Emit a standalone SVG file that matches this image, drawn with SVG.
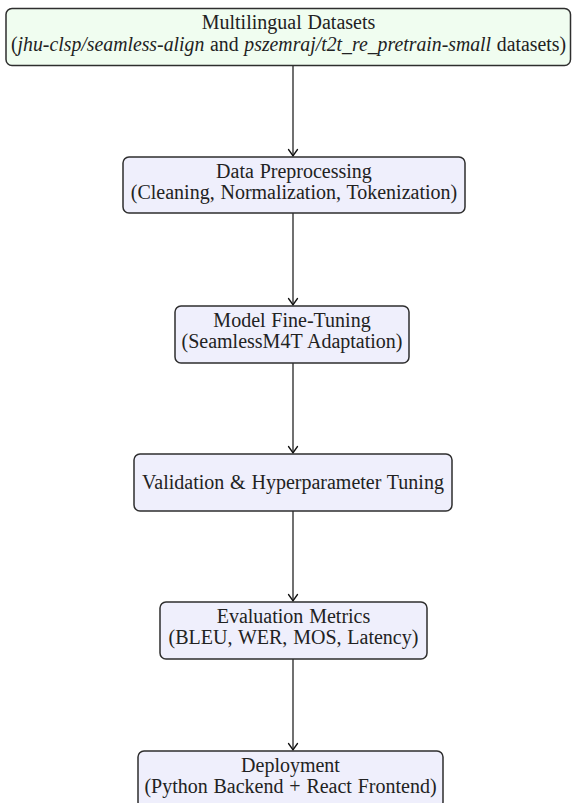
<svg xmlns="http://www.w3.org/2000/svg" width="576" height="803" viewBox="0 0 576 803">
<defs>
<style>
.box{stroke:#2e2e2e;stroke-width:1.5;}
.g{fill:#f0fdf0;}
.b{fill:#efeffc;}
.t{font-family:"Liberation Serif","Times New Roman",serif;font-size:20px;word-spacing:0.8px;fill:#222;text-anchor:middle;}
.it{font-style:italic;}
.arr{stroke:#111;stroke-width:1.2;fill:none;}
</style>
<marker id="ah" markerUnits="userSpaceOnUse" markerWidth="14" markerHeight="14" refX="0" refY="0" viewBox="-8 -7 10 14" orient="auto" overflow="visible">
<path d="M -6.5 -4.5 Q -2 -1.2 0 0 Q -2 1.2 -6.5 4.5" stroke="#111" stroke-width="1.3" fill="none" stroke-linecap="round"/>
</marker>
</defs>
<rect width="576" height="803" fill="#fff"/>
<g id="connectors">
<line class="arr" x1="293" y1="65.5" x2="293" y2="156" marker-end="url(#ah)"/>
<line class="arr" x1="293" y1="213" x2="293" y2="305" marker-end="url(#ah)"/>
<line class="arr" x1="293" y1="363" x2="293" y2="453" marker-end="url(#ah)"/>
<line class="arr" x1="293" y1="511" x2="293" y2="601" marker-end="url(#ah)"/>
<line class="arr" x1="293" y1="659" x2="293" y2="750" marker-end="url(#ah)"/>
</g>
<g id="datasets">
<rect class="box g" x="6" y="8.5" width="564.5" height="57" rx="6"/>
<text class="t" x="288.5" y="29">Multilingual Datasets</text>
<text class="t" x="288.5" y="51" textLength="555" lengthAdjust="spacingAndGlyphs">(<tspan class="it">jhu-clsp/seamless-align</tspan> and <tspan class="it">pszemraj/t2t_re_pretrain-small</tspan> datasets)</text>
</g>
<g id="preprocessing">
<rect class="box b" x="123" y="157" width="342" height="56" rx="6"/>
<text class="t" x="294" y="178">Data Preprocessing</text>
<text class="t" x="294" y="199">(Cleaning, Normalization, Tokenization)</text>
</g>
<g id="finetuning">
<rect class="box b" x="175" y="306" width="234" height="57" rx="6"/>
<text class="t" x="292" y="327">Model Fine-Tuning</text>
<text class="t" x="292" y="348">(SeamlessM4T Adaptation)</text>
</g>
<g id="validation">
<rect class="box b" x="134" y="454" width="318" height="57" rx="6"/>
<text class="t" x="293" y="489">Validation &amp; Hyperparameter Tuning</text>
</g>
<g id="evaluation">
<rect class="box b" x="160" y="602" width="267" height="57" rx="6"/>
<text class="t" x="293.5" y="623">Evaluation Metrics</text>
<text class="t" x="293.5" y="644">(BLEU, WER, MOS, Latency)</text>
</g>
<g id="deployment">
<rect class="box b" x="138" y="751" width="305" height="57" rx="6"/>
<text class="t" x="290.5" y="772">Deployment</text>
<text class="t" x="290.5" y="793">(Python Backend + React Frontend)</text>
</g>
</svg>
